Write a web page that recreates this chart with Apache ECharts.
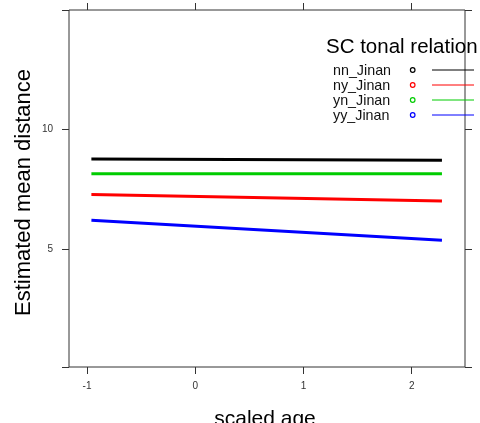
<!DOCTYPE html>
<html>
<head>
<meta charset="utf-8">
<script src="https://cdn.jsdelivr.net/npm/echarts@6/dist/echarts.min.js"></script>
<style>html,body{margin:0;padding:0;background:#fff}#c{width:480px;height:423px}</style>
</head>
<body>
<div id="c"></div>
<script>
// ---- data ----
var seriesNames = ['nn_Jinan', 'ny_Jinan', 'yn_Jinan', 'yy_Jinan'];
var seriesColors = ['#000000', '#ff0000', '#00cc00', '#0000ff'];
var ageValues = [-0.96, 2.28];
var nnValues = [8.76, 8.71];
var nyValues = [7.28, 7.01];
var ynValues = [8.14, 8.14];
var yyValues = [6.21, 5.38];
var xTicks = [-1, 0, 1, 2];
var yTicks = [5, 10];
var legendTitle = 'SC tonal relation';
var xTitle = 'scaled age';
var yTitle = 'Estimated mean distance';

var allValues = [nnValues, nyValues, ynValues, yyValues];
var xMin = -1.167, xMax = 2.493, yMin = 0.1, yMax = 14.96;
var font = 'Liberation Sans, Arial, sans-serif';

var chart = echarts.init(document.getElementById('c'), null, {renderer: 'canvas'});

function pairs(vals) {
  return ageValues.map(function (x, i) { return [x, vals[i]]; });
}

var series = seriesNames.map(function (n, i) {
  return {
    name: n, type: 'line', data: pairs(allValues[i]),
    xAxisIndex: 0, yAxisIndex: 0,
    showSymbol: false, symbol: 'none',
    lineStyle: {color: seriesColors[i], width: 3},
    itemStyle: {color: seriesColors[i]},
    z: 3, silent: true, animation: false
  };
});

var graphics = [];
graphics.push({
  type: 'text', x: 326, y: 47, z: 10,
  style: {text: legendTitle, font: '20.5px ' + font, fill: '#000', verticalAlign: 'middle', align: 'left'}
});
var legY = [71, 86, 101, 116];
seriesNames.forEach(function (n, i) {
  graphics.push({type: 'text', x: 333, y: legY[i], z: 10,
    style: {text: n, font: '14.3px ' + font, fill: '#111', verticalAlign: 'middle', align: 'left'}});
  graphics.push({type: 'circle', shape: {cx: 412.7, cy: legY[i] - 1, r: 2.3}, z: 10,
    style: {fill: 'none', stroke: seriesColors[i], lineWidth: 1.2}});
  graphics.push({type: 'line', shape: {x1: 432, y1: legY[i] - 1, x2: 474, y2: legY[i] - 1}, z: 10,
    style: {stroke: seriesColors[i], lineWidth: 1}});
});
graphics.push({type: 'text', x: 23.5, y: 192.5, rotation: Math.PI / 2, z: 10,
  style: {text: yTitle, font: '22px ' + font, fill: '#000', align: 'center', verticalAlign: 'middle'}});
graphics.push({type: 'text', x: 265, y: 419, z: 10,
  style: {text: xTitle, font: '21px ' + font, fill: '#000', align: 'center', verticalAlign: 'middle'}});

var noLine = {show: false, onZero: false};
var tickLine = {color: '#333', width: 1};

chart.setOption({
  animation: false,
  backgroundColor: '#fff',
  grid: {left: 69, right: 15, top: 10, bottom: 56, show: true, borderColor: '#333', borderWidth: 1, containLabel: false},
  xAxis: [
    {type: 'value', position: 'bottom', min: xMin, max: xMax,
     axisLine: noLine, splitLine: {show: false},
     axisTick: {show: true, inside: false, length: 7, customValues: xTicks, lineStyle: tickLine},
     axisLabel: {show: true, customValues: xTicks, margin: 14, fontSize: 10, color: '#333', fontFamily: font,
       formatter: function (v) { return String(v); }}},
    {type: 'value', position: 'top', min: xMin, max: xMax,
     axisLine: noLine, splitLine: {show: false},
     axisTick: {show: true, inside: false, length: 7, customValues: xTicks, lineStyle: tickLine},
     axisLabel: {show: false}}
  ],
  yAxis: [
    {type: 'value', position: 'left', min: yMin, max: yMax,
     axisLine: noLine, splitLine: {show: false},
     axisTick: {show: true, inside: false, length: 7, customValues: [yMin].concat(yTicks).concat([yMax]), lineStyle: tickLine},
     axisLabel: {show: true, customValues: yTicks, margin: 16, fontSize: 10, color: '#333', fontFamily: font,
       formatter: function (v) { return String(v); }}},
    {type: 'value', position: 'right', min: yMin, max: yMax,
     axisLine: noLine, splitLine: {show: false},
     axisTick: {show: true, inside: false, length: 7, customValues: [yMin].concat(yTicks).concat([yMax]), lineStyle: tickLine},
     axisLabel: {show: false}}
  ],
  series: series,
  graphic: graphics
});
</script>
</body>
</html>
